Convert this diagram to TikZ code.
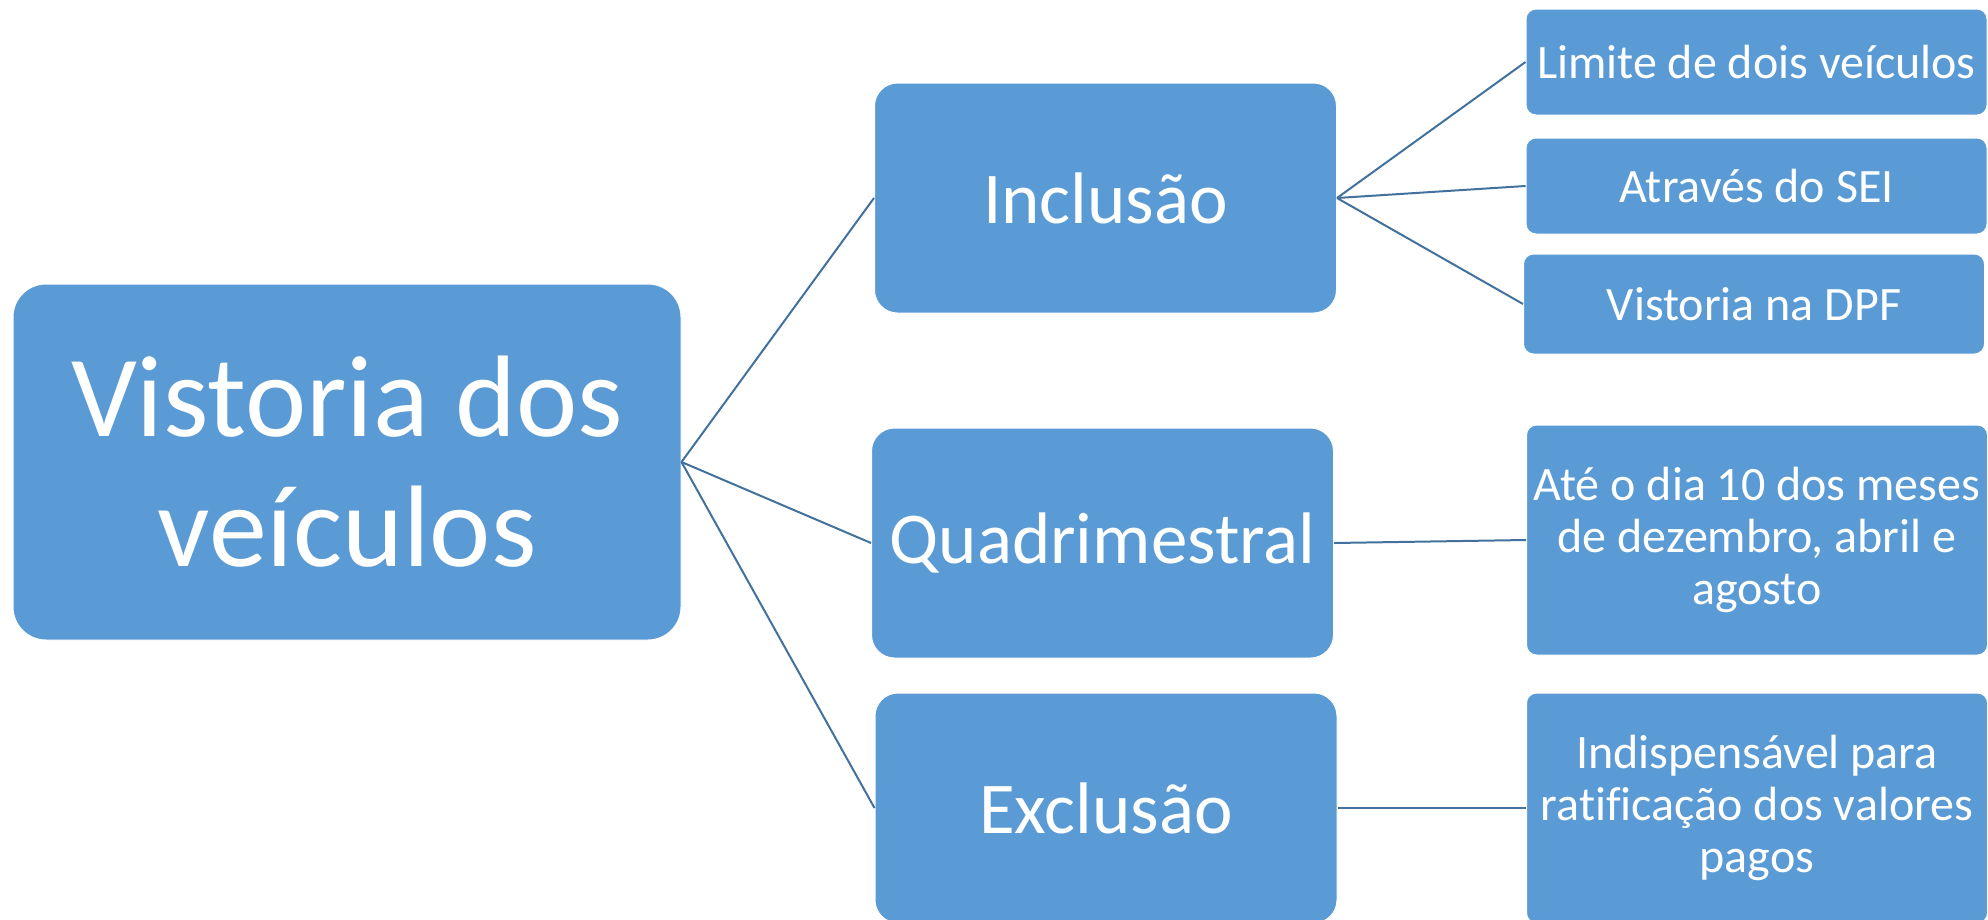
\documentclass[tikz,border=0pt]{standalone}
\usepackage{fontspec}
\setmainfont{Carlito}[Ligatures=NoCommon]
\definecolor{boxBlue}{HTML}{5B9BD5}
\definecolor{edgeBlue}{HTML}{41719C}

\begin{document}
\begin{tikzpicture}
[x=1pt,y=-1pt,
  boxDecorate/.style={shape=rectangle,fill=boxBlue,draw=white,line width=1pt,
    text=white,align=center,inner sep=0pt},%
  rootDecorate/.style={boxDecorate,rounded corners=33pt,minimum width=668pt,
    minimum height=356pt,font=\fontsize{116pt}{130pt}\selectfont},%
  midDecorate/.style={boxDecorate,rounded corners=23pt,minimum width=462pt,
    minimum height=230pt,font=\fontsize{73pt}{80pt}\selectfont},%
  leafDecorate/.style={boxDecorate,rounded corners=10pt,minimum width=461pt,
    font=\fontsize{48pt}{52pt}\selectfont}]
\useasboundingbox (0,0) rectangle (1988,919);
%% nodes or vertices
\node (Vistoria) at (347,462) [rootDecorate] {Vistoria dos\\ve\'iculos};
\node (Inclusao) at (1105.5,198) [midDecorate] {Inclus\~ao};
\node (Quadrimestral) at (1102.5,543) [midDecorate] {Quadrimestral};
\node (Exclusao) at (1106,808) [midDecorate] {Exclus\~ao};
\foreach \nodename/\x/\y/\h/\nodetext in {
  Limite/1756.5/62/106/{Limite de dois ve\'iculos},
  Atraves/1756.5/186/96/{Atrav\'es do SEI},
  DPF/1754/304/100/{Vistoria na DPF},
  Prazo/1757/540/230/{At\'e o dia 10 dos meses\\de dezembro, abril e\\agosto},
  Valores/1757/808/230/{Indispens\'avel para\\ratifica\c{c}\~ao dos valores\\pagos}}
{
  \node (\nodename) at (\x,\y) [leafDecorate,minimum height=\h pt] {\nodetext};
}
%% edges or lines
\tikzstyle{EdgeStyle}=[-,draw=edgeBlue,line width=2pt]
\foreach \startnode/\endnode in {
  Vistoria/Inclusao, Vistoria/Quadrimestral, Vistoria/Exclusao,
  Inclusao/Limite, Inclusao/Atraves, Inclusao/DPF,
  Quadrimestral/Prazo, Exclusao/Valores}
{
  \draw[EdgeStyle] (\startnode.east) -- (\endnode.west);
}
\end{tikzpicture}
\end{document}
